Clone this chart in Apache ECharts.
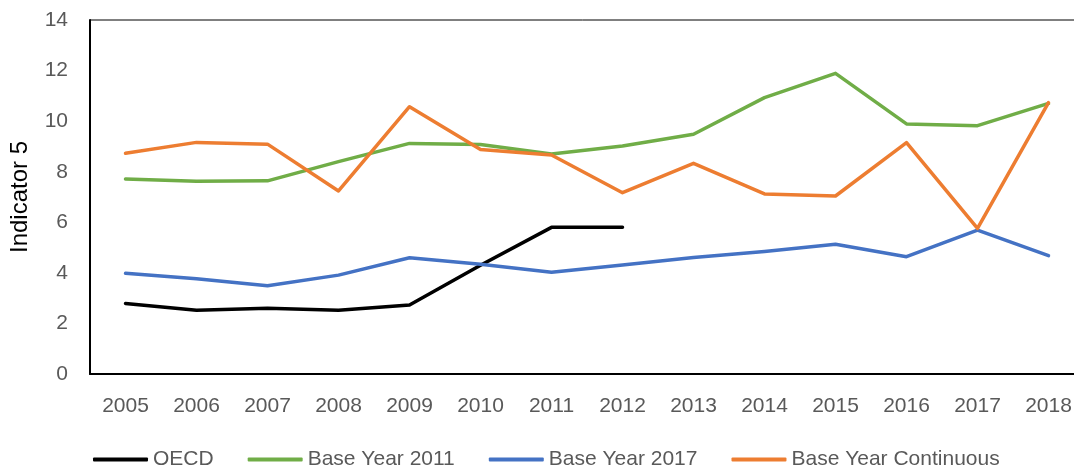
<!DOCTYPE html>
<html>
<head>
<meta charset="utf-8">
<script src="https://cdn.jsdelivr.net/npm/echarts@6/dist/echarts.min.js"></script>
<style>html,body{margin:0;padding:0;background:#fff}#c{width:1074px;height:470px}</style>
</head>
<body>
<div id="c"></div>
<script>
const years = ['2005','2006','2007','2008','2009','2010','2011','2012','2013','2014','2015','2016','2017','2018'];
const oecd = [2.79, 2.52, 2.60, 2.52, 2.73, 4.30, 5.80, 5.80, '-', '-', '-', '-', '-', '-'];
const base2011 = [7.71, 7.62, 7.64, 8.40, 9.12, 9.08, 8.70, 9.02, 9.48, 10.93, 11.89, 9.89, 9.82, 10.70];
const base2017 = [3.98, 3.77, 3.49, 3.91, 4.60, 4.34, 4.02, 4.31, 4.61, 4.84, 5.13, 4.64, 5.69, 4.68];
const baseCont = [8.73, 9.16, 9.09, 7.24, 10.57, 8.88, 8.66, 7.17, 8.33, 7.12, 7.04, 9.15, 5.76, 10.73];
const yTicks = {min: 0, max: 14, interval: 2};
const seriesNames = ['OECD', 'Base Year 2011', 'Base Year 2017', 'Base Year Continuous'];
const colors = ['#000000', '#70AD47', '#4472C4', '#ED7D31'];

const font = 'Liberation Sans';
const chart = echarts.init(document.getElementById('c'), null, {renderer: 'canvas'});
const mk = (i, data) => ({
  name: seriesNames[i], type: 'line', data: data, symbol: 'none',
  itemStyle: {color: colors[i]},
  lineStyle: {color: colors[i], width: 3.5, cap: 'round', join: 'round'},
  animation: false
});
chart.setOption({
  animation: false,
  grid: {left: 90, top: 20, width: 994, bottom: 96, outerBoundsMode: 'none', containLabel: false,
         show: true, borderColor: '#000', borderWidth: 1, backgroundColor: 'transparent'},
  xAxis: {
    type: 'category', data: years, boundaryGap: true,
    axisLine: {lineStyle: {color: '#000', width: 2}},
    axisTick: {show: false},
    axisLabel: {color: '#595959', fontSize: 21, fontFamily: font, margin: 22}
  },
  yAxis: {
    type: 'value', min: yTicks.min, max: yTicks.max, interval: yTicks.interval,
    name: 'Indicator 5', nameLocation: 'middle', nameGap: 58,
    nameTextStyle: {color: '#000', fontSize: 24, fontFamily: font},
    axisLine: {show: true, lineStyle: {color: '#000', width: 2}},
    axisTick: {show: false},
    splitLine: {show: false},
    axisLabel: {color: '#595959', fontSize: 21, fontFamily: font, margin: 22}
  },
  legend: {
    left: 88, top: 444, itemWidth: 55, itemHeight: 4, itemGap: 34, icon: 'roundRect',
    textStyle: {color: '#595959', fontSize: 21, fontFamily: font},
    data: seriesNames
  },
  series: [mk(0, oecd), mk(1, base2011), mk(2, base2017), mk(3, baseCont)]
});
</script>
</body>
</html>
